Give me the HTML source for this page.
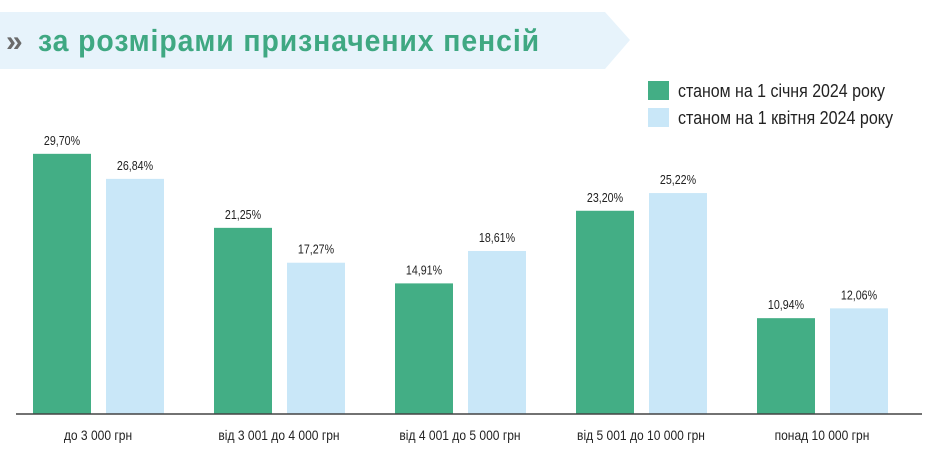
<!DOCTYPE html>
<html><head><meta charset="utf-8"><style>
html,body{margin:0;padding:0;background:#fff;width:939px;height:456px;overflow:hidden}
svg{display:block}
text{font-family:"Liberation Sans Narrow","Liberation Sans","DejaVu Sans Condensed",sans-serif}
</style></head><body>
<svg id="chart" width="939" height="456" viewBox="0 0 939 456">
<polygon points="0,12 605,12 630,40 605,69 0,69" fill="#e7f3fb"/>
<text x="6" y="51" font-size="30" font-weight="bold" fill="#6b6b6b">»</text>
<text x="38" y="51" font-size="31" font-weight="bold" fill="#3fa882" textLength="502" lengthAdjust="spacingAndGlyphs" letter-spacing="1">за розмірами призначених пенсій</text>
<rect x="648" y="81" width="21" height="19" fill="#43ae85"/>
<text x="678" y="97" font-size="18" fill="#222" textLength="207" lengthAdjust="spacingAndGlyphs">станом на 1 січня 2024 року</text>
<rect x="648" y="108" width="21" height="19" fill="#c9e7f8"/>
<text x="678" y="124" font-size="18" fill="#222" textLength="215" lengthAdjust="spacingAndGlyphs">станом на 1 квітня 2024 року</text>
<g id="bars"></g>
<line x1="16" y1="414" x2="922" y2="414" stroke="#444" stroke-width="1.5"/>
</svg>
<script>
const categories = ["до 3 000 грн","від 3 001 до 4 000 грн","від 4 001 до 5 000 грн","від 5 001 до 10 000 грн","понад 10 000 грн"];
const janValues = [29.70, 21.25, 14.91, 23.20, 10.94];
const aprValues = [26.84, 17.27, 18.61, 25.22, 12.06];
const valueLabelsJan = ["29,70%","21,25%","14,91%","23,20%","10,94%"];
const valueLabelsApr = ["26,84%","17,27%","18,61%","25,22%","12,06%"];

const NS = "http://www.w3.org/2000/svg";
const g = document.getElementById("bars");
const baseY = 414, pxPer = 8.76, barW = 58;
function yScale(v){ return baseY - v*pxPer; }
function groupX(i){ return 33 + i*181; }
function mk(tag, attrs){ const e=document.createElementNS(NS,tag); for(const k in attrs) e.setAttribute(k,attrs[k]); g.appendChild(e); return e; }
function condense(t, f){ const w=t.getComputedTextLength(); t.setAttribute("textLength", (w*f).toFixed(1)); t.setAttribute("lengthAdjust","spacingAndGlyphs"); }
categories.forEach((c,i)=>{
  const x1 = groupX(i), x2 = x1 + 73;
  const b1 = mk("rect",{x:x1,y:yScale(janValues[i]),width:barW,height:baseY-yScale(janValues[i]),fill:"#43ae85"});
  
  
  const b2 = mk("rect",{x:x2,y:yScale(aprValues[i]),width:barW,height:baseY-yScale(aprValues[i]),fill:"#c9e7f8"});
  
  
  const t1 = mk("text",{x:x1+barW/2,y:yScale(janValues[i])-9,"font-size":13,"text-anchor":"middle",fill:"#222"});
  t1.textContent = valueLabelsJan[i];
  
  
  condense(t1, 0.82);
  const t2 = mk("text",{x:x2+barW/2,y:yScale(aprValues[i])-9,"font-size":13,"text-anchor":"middle",fill:"#222"});
  t2.textContent = valueLabelsApr[i];
  
  
  condense(t2, 0.82);
  const cl = mk("text",{x:x1+65,y:440,"font-size":14,"text-anchor":"middle",fill:"#222"});
  cl.textContent = c;
  
  
  condense(cl, 0.86);
});
</script>
</body></html>
